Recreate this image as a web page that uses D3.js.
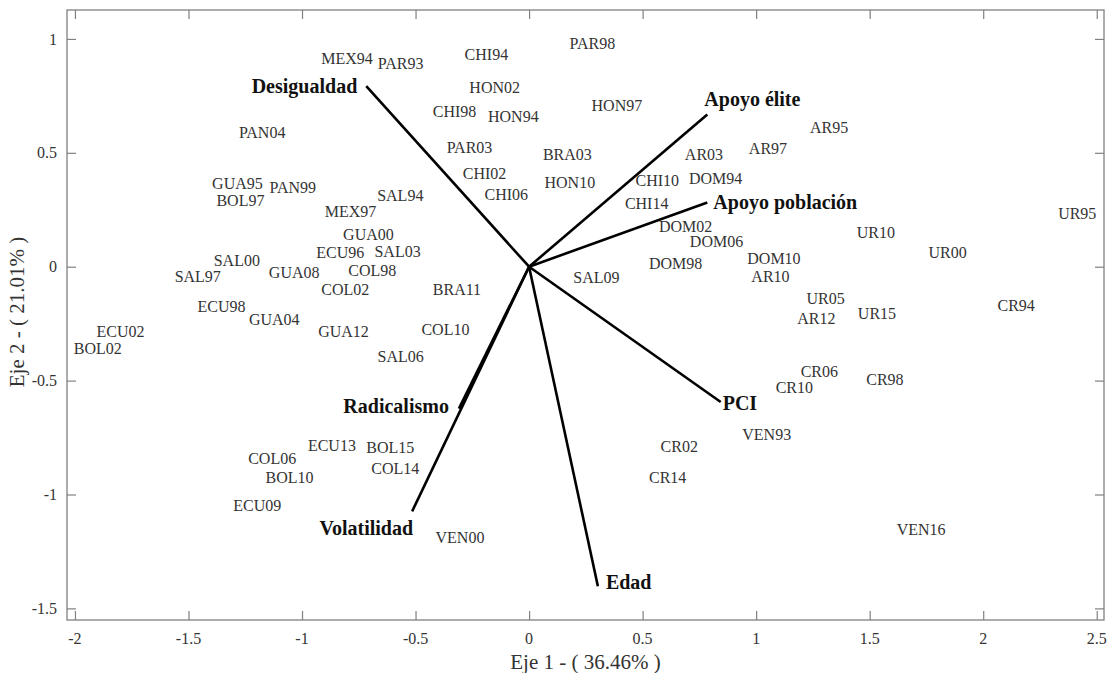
<!DOCTYPE html>
<html lang="es">
<head>
    <meta charset="UTF-8">
    <title>Biplot</title>
    <script src="https://d3js.org/d3.v7.min.js"></script>
    <style>
        body { margin: 0; background: #fff; }
        text { font-family: "Liberation Serif", "Times New Roman", serif; }
        .tick-label { font-size: 16px; fill: #333; }
        .obs { font-size: 16px; fill: #333; }
        .var-label { font-size: 20px; font-weight: bold; fill: #111; }
        .axis-title { font-size: 21px; fill: #333; }
    </style>
</head>
<body>
    <div id="chart"></div>
    <script>
        // observaciones (pais + año)
        const obsNames = ["MEX94","PAR93","CHI94","PAR98","HON02","CHI98","HON94","HON97","PAN04","PAR03",
            "CHI02","CHI06","BRA03","HON10","GUA95","PAN99","BOL97","SAL94","MEX97","GUA00","ECU96","SAL03",
            "SAL00","SAL97","GUA08","COL98","COL02","BRA11","ECU98","GUA04","GUA12","COL10","SAL06","ECU02","BOL02",
            "AR95","AR97","AR03","CHI10","DOM94","CHI14","DOM02","DOM06","DOM98","DOM10","AR10","SAL09",
            "UR10","UR00","UR95","UR05","AR12","UR15","CR94","CR06","CR10","CR98","VEN93","CR02","CR14","VEN16",
            "ECU13","BOL15","COL06","COL14","BOL10","ECU09","VEN00"];
        const obsX = [-0.915,-0.666,-0.284,0.178,-0.263,-0.424,-0.181,0.275,-1.278,-0.363,
            -0.292,-0.196,0.061,0.068,-1.396,-1.143,-1.377,-0.669,-0.900,-0.819,-0.937,-0.681,
            -1.389,-1.561,-1.146,-0.796,-0.915,-0.424,-1.460,-1.234,-0.929,-0.474,-0.667,-1.905,-2.005,
            1.237,0.968,0.686,0.469,0.704,0.422,0.572,0.708,0.528,0.961,0.979,0.195,
            1.443,1.759,2.330,1.222,1.181,1.448,2.063,1.196,1.086,1.485,0.939,0.579,0.528,1.619,
            -0.974,-0.717,-1.237,-0.695,-1.161,-1.303,-0.412];
        const obsY = [0.916,0.892,0.933,0.980,0.787,0.682,0.661,0.709,0.588,0.523,
            0.409,0.317,0.493,0.370,0.365,0.346,0.289,0.311,0.245,0.143,0.061,0.068,
            0.029,-0.042,-0.027,-0.015,-0.100,-0.100,-0.173,-0.232,-0.286,-0.276,-0.393,-0.283,-0.359,
            0.610,0.519,0.493,0.377,0.387,0.280,0.178,0.109,0.014,0.036,-0.042,-0.047,
            0.150,0.065,0.236,-0.140,-0.228,-0.203,-0.169,-0.458,-0.528,-0.495,-0.736,-0.787,-0.923,-1.154,
            -0.784,-0.794,-0.842,-0.884,-0.923,-1.047,-1.187];

        // variables (vectores)
        const varNames = ["Desigualdad","Apoyo élite","Apoyo población","PCI","Edad","Radicalismo","Volatilidad"];
        const varX = [-0.717, 0.785, 0.785, 0.844, 0.303, -0.309, -0.515];
        const varY = [0.793, 0.668, 0.282, -0.594, -1.403, -0.623, -1.074];

        const xTicks = [-2, -1.5, -1, -0.5, 0, 0.5, 1, 1.5, 2, 2.5];
        const yTicks = [-1.5, -1, -0.5, 0, 0.5, 1];
        const xTitle = "Eje 1 - ( 36.46% )";
        const yTitle = "Eje 2 - ( 21.01% )";

        const W = 1110, H = 673;
        const box = {left: 67, right: 1104, top: 10, bottom: 620};

        const x = d3.scaleLinear().domain([-2.035, 2.532]).range([box.left, box.right]);
        const y = d3.scaleLinear().domain([1.127, -1.551]).range([box.top, box.bottom]);

        const svg = d3.select("#chart").append("svg")
            .attr("width", W).attr("height", H);

        const tickLen = 9;
        const tickCol = "#808080";

        // ticks hacia adentro en los cuatro lados
        svg.append("g").call(d3.axisBottom(x).tickValues(xTicks).tickSize(-tickLen).tickFormat(""))
            .attr("transform", `translate(0,${box.bottom})`);
        svg.append("g").call(d3.axisTop(x).tickValues(xTicks).tickSize(-tickLen).tickFormat(""))
            .attr("transform", `translate(0,${box.top})`);
        svg.append("g").call(d3.axisLeft(y).tickValues(yTicks).tickSize(-tickLen).tickFormat(""))
            .attr("transform", `translate(${box.left},0)`);
        svg.append("g").call(d3.axisRight(y).tickValues(yTicks).tickSize(-tickLen).tickFormat(""))
            .attr("transform", `translate(${box.right},0)`);
        svg.selectAll(".domain").remove();
        svg.selectAll(".tick line").attr("stroke", tickCol).attr("stroke-width", 1.2);

        svg.append("rect")
            .attr("x", box.left).attr("y", box.top)
            .attr("width", box.right - box.left).attr("height", box.bottom - box.top)
            .attr("fill", "none").attr("stroke", tickCol).attr("stroke-width", 1.3);

        // etiquetas de ticks
        svg.selectAll(".xlab").data(xTicks).enter().append("text")
            .attr("class", "tick-label")
            .attr("x", d => x(d)).attr("y", box.bottom + 24)
            .attr("text-anchor", "middle")
            .text(d => d);
        svg.selectAll(".ylab").data(yTicks).enter().append("text")
            .attr("class", "tick-label")
            .attr("x", box.left - 10).attr("y", d => y(d))
            .attr("dy", "0.35em")
            .attr("text-anchor", "end")
            .text(d => d);

        // titulos de ejes
        svg.append("text").attr("class", "axis-title")
            .attr("x", (box.left + box.right) / 2).attr("y", box.bottom + 49)
            .attr("text-anchor", "middle").text(xTitle);
        svg.append("text").attr("class", "axis-title")
            .attr("transform", `translate(24,${(box.top + box.bottom) / 2 - 3}) rotate(-90)`)
            .attr("text-anchor", "middle").text(yTitle);

        // vectores
        svg.selectAll(".vec").data(varNames).enter().append("line")
            .attr("x1", x(0)).attr("y1", y(0))
            .attr("x2", (d, i) => x(varX[i])).attr("y2", (d, i) => y(varY[i]))
            .attr("stroke", "#000").attr("stroke-width", 2.6);

        // desplazamientos de las etiquetas de los vectores (px)
        const varLabelPos = {
            "Desigualdad": [-9, 0, "end"],
            "Apoyo élite": [-3, -16, "start"],
            "Apoyo población": [6, 0, "start"],
            "PCI": [2, 1, "start"],
            "Edad": [8, -4, "start"],
            "Radicalismo": [-10, -3, "end"],
            "Volatilidad": [1, 17, "end"]
        };
        svg.selectAll(".var-label").data(varNames).enter().append("text")
            .attr("class", "var-label")
            .attr("x", (d, i) => x(varX[i]) + varLabelPos[d][0])
            .attr("y", (d, i) => y(varY[i]) + varLabelPos[d][1])
            .attr("dy", "0.35em")
            .attr("text-anchor", d => varLabelPos[d][2])
            .text(d => d);

        // observaciones
        svg.selectAll(".obs").data(obsNames).enter().append("text")
            .attr("class", "obs")
            .attr("x", (d, i) => x(obsX[i]))
            .attr("y", (d, i) => y(obsY[i]))
            .attr("dy", "0.35em")
            .text(d => d);
    </script>
</body>
</html>
